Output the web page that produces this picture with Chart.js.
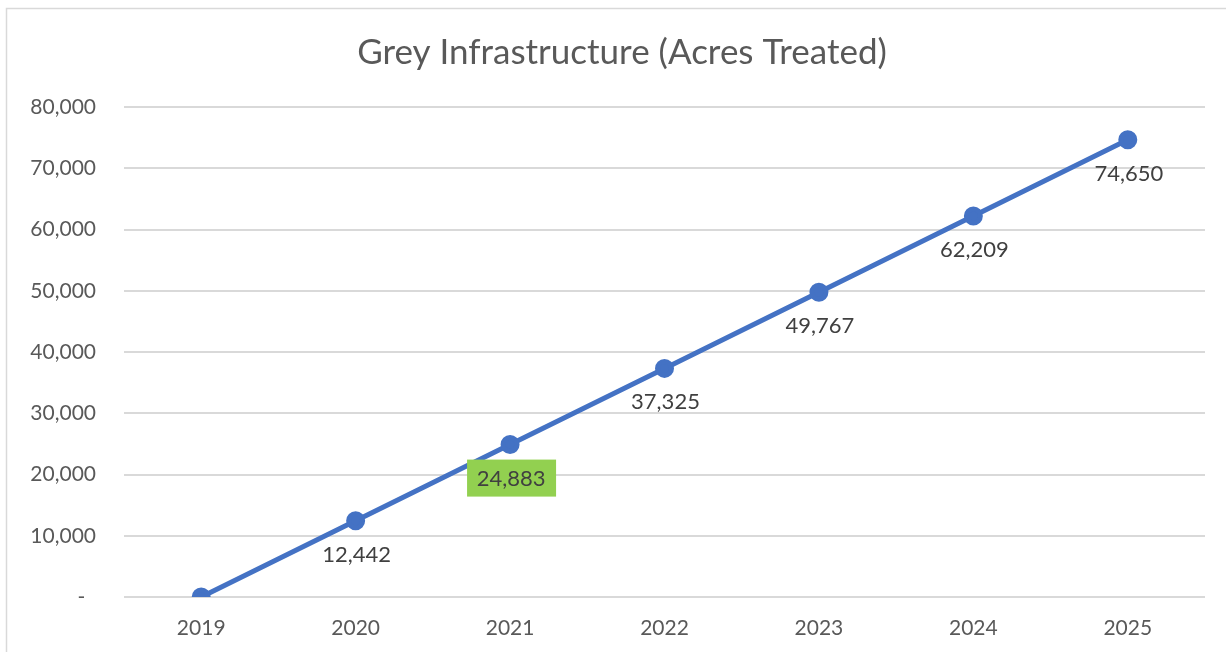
<!DOCTYPE html>
<html>
<head>
<meta charset="utf-8">
<script src="https://cdn.jsdelivr.net/npm/chart.js@4.4.1/dist/chart.umd.min.js"></script>
<style>
  html, body { margin: 0; padding: 0; background: #ffffff; }
  #wrap { position: relative; width: 1226px; height: 652px; }
</style>
</head>
<body>
<div id="wrap"><canvas id="c" width="1226" height="652"></canvas></div>
<script>
const title = 'Grey Infrastructure (Acres Treated)';
const categories = ['2019', '2020', '2021', '2022', '2023', '2024', '2025'];
const acresTreated = [0, 12442, 24883, 37325, 49767, 62209, 74650];
const yTicks = [0, 10000, 20000, 30000, 40000, 50000, 60000, 70000, 80000];
const highlightIndex = 2;

const FONT = 'Lato, "Liberation Sans", sans-serif';

const frame = {
  id: 'frame',
  afterLayout(chart) {
    // centre the title over the whole chart frame, as Excel does
    if (chart.titleBlock) { chart.titleBlock.left = 39; }
  },
  beforeDraw(chart) {
    const ctx = chart.ctx;
    ctx.save();
    ctx.fillStyle = '#ffffff';
    ctx.fillRect(0, 0, chart.width, chart.height);
    ctx.strokeStyle = '#d9d9d9';
    ctx.lineWidth = 1.5;
    ctx.beginPath();
    ctx.moveTo(6.5, chart.height);
    ctx.lineTo(6.5, 8.5);
    ctx.lineTo(chart.width, 8.5);
    ctx.stroke();
    ctx.restore();
  }
};

const dataLabels = {
  id: 'dataLabels',
  afterDatasetsDraw(chart) {
    const ctx = chart.ctx;
    const meta = chart.getDatasetMeta(0);
    ctx.save();
    ctx.font = '22px ' + FONT;
    ctx.textAlign = 'center';
    ctx.textBaseline = 'middle';
    meta.data.forEach((pt, i) => {
      if (i === 0) return;
      const txt = acresTreated[i].toLocaleString('en-US');
      const x = pt.x + 1, y = pt.y + 34;
      if (i === highlightIndex) {
        ctx.fillStyle = '#92D050';
        ctx.fillRect(x - 44, y - 19, 89, 37);
      }
      ctx.fillStyle = '#404040';
      ctx.fillText(txt, x, y);
    });
    ctx.restore();
  }
};

new Chart(document.getElementById('c'), {
  type: 'line',
  data: {
    labels: categories,
    datasets: [{
      data: acresTreated,
      borderColor: '#4472C4',
      backgroundColor: '#4472C4',
      borderWidth: 5,
      pointRadius: 7,
      pointHoverRadius: 7,
      pointBackgroundColor: '#4472C4',
      pointBorderColor: '#4472C4',
      tension: 0,
      fill: false
    }]
  },
  options: {
    responsive: false,
    animation: false,
    layout: { padding: { top: 0, right: 21, bottom: 0, left: 0 } },
    plugins: {
      legend: { display: false },
      tooltip: { enabled: false },
      title: {
        display: true,
        text: title,
        color: '#595959',
        font: { family: FONT, size: 35, weight: 'normal' },
        padding: { top: 32, bottom: 33 }
      }
    },
    scales: {
      x: {
        offset: true,
        grid: { display: false, drawTicks: false },
        border: { display: false },
        ticks: { color: '#595959', font: { family: FONT, size: 21 }, padding: 19 },
        afterFit(s) { s.height = 55; }
      },
      y: {
        min: 0,
        max: 80000,
        afterBuildTicks(s) { s.ticks = yTicks.map(v => ({ value: v })); },
        grid: { color: '#d9d9d9', lineWidth: 2, drawTicks: false },
        border: { display: false },
        ticks: {
          color: '#595959',
          font: { family: FONT, size: 21 },
          padding: 28,
          callback: v => v === 0 ? '-  ' : v.toLocaleString('en-US')
        },
        afterFit(s) { s.width = 124; }
      }
    }
  },
  plugins: [frame, dataLabels]
});
</script>
</body>
</html>
